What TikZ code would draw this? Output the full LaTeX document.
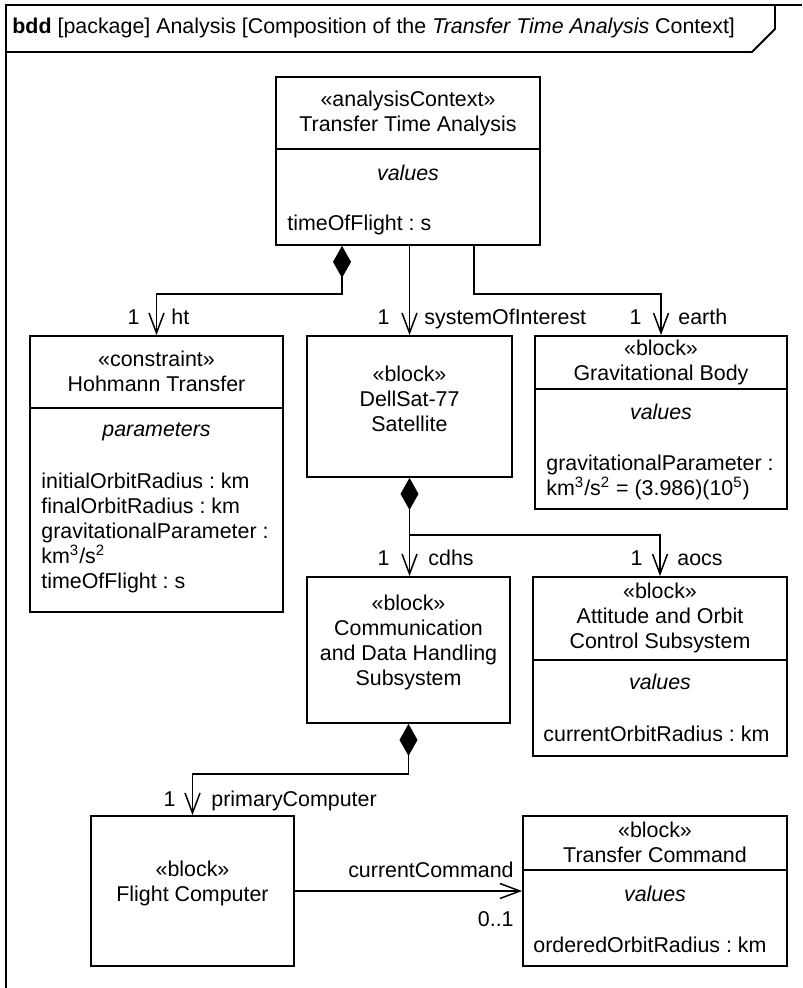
\documentclass[tikz,border=0pt]{standalone}
\usepackage{fontspec}
\setmainfont{Liberation Sans}
\usetikzlibrary{arrows.meta,positioning,calc,fit}
\frenchspacing

\begin{document}
\begin{tikzpicture}[x=0.5pt, y=-0.5pt,
  font=\fontsize{10.7}{12.5}\selectfont,
  frm/.style={line width=0.9pt},
  blk/.style={draw, line width=0.9pt, inner sep=0pt, align=center},
  hd/.style={inner sep=0pt, align=center},
  cmp/.style={inner sep=0pt, font=\fontsize{10.7}{12.5}\selectfont\itshape},
  att/.style={inner sep=0pt, align=left, anchor=west},
  lab/.style={inner sep=0pt},
  assoc/.style={line width=0.75pt, -{Straight Barb[length=10pt, width=7.5pt]}},
  comp/.style={line width=0.75pt, {Diamond[length=16pt, width=9pt]}-{Straight Barb[length=10pt, width=7.5pt]}}]
\useasboundingbox (0,0) rectangle (802,988);

% diagram frame and heading
\draw[frm] (802,5) -- (6,5) -- (6,988);
\draw[frm] (6,52) -- (752,52) -- (775,29) -- (775,5);
\node[anchor=west, inner sep=0pt] (title) at (12,28) {\textbf{bdd} [package] Analysis [Composition of the \textit{Transfer Time Analysis} Context]};

% analysis context
\node[blk, fit={(276,77) (540,245)}] (tta) {};
\node[hd] (tta-name) at (408,113.5) {«analysisContext»\\Transfer Time Analysis};
\draw[frm] (tta.west |- 0,149) -- (tta.east |- 0,149);
\node[cmp] (tta-cmp) at (408,173) {values};
\node[att] (tta-att) at (287,225) {timeOfFlight : s};

% constraint block
\node[blk, fit={(30,336) (283,612)}] (hoh) {};
\node[hd] (hoh-name) at (156.5,371) {«constraint»\\Hohmann Transfer};
\draw[frm] (hoh.west |- 0,408) -- (hoh.east |- 0,408);
\node[cmp] (hoh-cmp) at (156.5,432) {parameters};
\node[att] (hoh-att) at (41,532.5) {initialOrbitRadius : km\\finalOrbitRadius : km\\gravitationalParameter :\\km\textsuperscript{3}/s\textsuperscript{2}\\timeOfFlight : s};

% satellite
\node[blk, fit={(307,336) (512,477)}] (sat) {«block»\\DellSat-77\\Satellite};

% earth
\node[blk, fit={(535,336) (787,509)}] (grav) {};
\node[hd] (grav-name) at (661,362) {«block»\\Gravitational Body};
\draw[frm] (grav.west |- 0,389) -- (grav.east |- 0,389);
\node[cmp] (grav-cmp) at (661,412) {values};
\node[att] (grav-att) at (546,477.5) {gravitationalParameter :\\km\textsuperscript{3}/s\textsuperscript{2} = (3.986)(10\textsuperscript{5})};

% subsystems
\node[blk, fit={(307,577) (510,723)}] (cdhs) {«block»\\Communication\\and Data Handling\\Subsystem};
\node[blk, fit={(533,577) (787,756)}] (aocs) {};
\node[hd] (aocs-name) at (660,618) {«block»\\Attitude and Orbit\\Control Subsystem};
\draw[frm] (aocs.west |- 0,660) -- (aocs.east |- 0,660);
\node[cmp] (aocs-cmp) at (660,682) {values};
\node[att] (aocs-att) at (543,734) {currentOrbitRadius : km};

% computer and command
\node[blk, fit={(91,816) (294,966)}] (fc) {«block»\\Flight Computer};
\node[blk, fit={(523,816) (787,966)}] (tc) {};
\node[hd] (tc-name) at (655,842.5) {«block»\\Transfer Command};
\draw[frm] (tc.west |- 0,870) -- (tc.east |- 0,870);
\node[cmp] (tc-cmp) at (655,894) {values};
\node[att] (tc-att) at (533,945) {orderedOrbitRadius : km};

% associations
\draw[comp] (tta.south -| 342,0) -- ++(0,48) -| (hoh.north);
\draw[assoc] (tta.south -| sat.north) -- (sat.north);
\draw[assoc] (tta.south -| 474,0) -- ++(0,48) -| (grav.north);
\draw[comp] (sat.south) -- (sat.south |- cdhs.north);
\coordinate (j1) at ($(sat.south)+(0,57)$);
\draw[assoc] (j1) -| (aocs.north);
\draw[comp] (cdhs.south) -- ++(0,50) -| (fc.north);
\draw[assoc] (fc.east) -- (tc.west);

% role names and multiplicities
\node[lab, anchor=base east] (m-ht) at (140,325) {1};
\node[lab, anchor=base west] (r-ht) at (171,325) {ht};
\node[lab, anchor=base east] (m-soi) at (390,325) {1};
\node[lab, anchor=base west] (r-soi) at (424,325) {systemOfInterest};
\node[lab, anchor=base east] (m-earth) at (642,325) {1};
\node[lab, anchor=base west] (r-earth) at (678,325) {earth};
\node[lab, anchor=base east] (m-cdhs) at (390,565) {1};
\node[lab, anchor=base west] (r-cdhs) at (428,565) {cdhs};
\node[lab, anchor=base east] (m-aocs) at (643,565) {1};
\node[lab, anchor=base west] (r-aocs) at (677,565) {aocs};
\node[lab, anchor=base east] (m-pc) at (176,806) {1};
\node[lab, anchor=base west] (r-pc) at (211,806) {primaryComputer};
\node[lab, anchor=base east] (r-cc) at (514,877) {currentCommand};
\node[lab, anchor=base east] (m-cc) at (514,926) {0..1};
\end{tikzpicture}
\end{document}
